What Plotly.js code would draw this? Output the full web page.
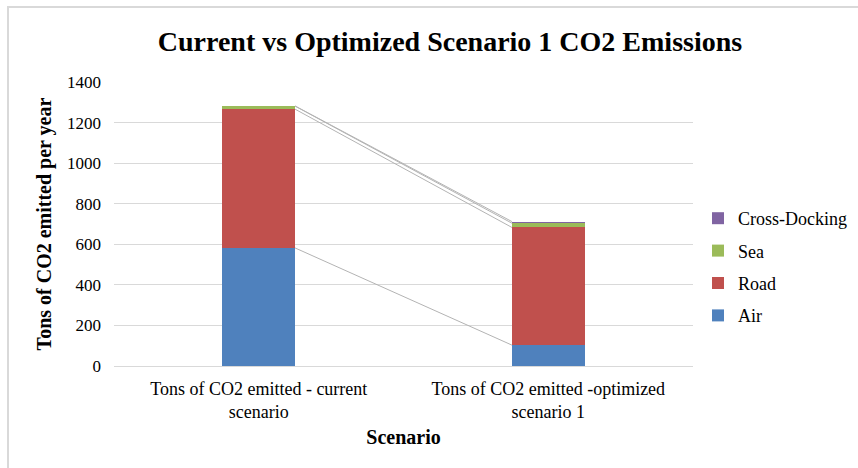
<!DOCTYPE html>
<html>
<head>
<meta charset="utf-8">
<script src="https://cdn.plot.ly/plotly-3.0.1.min.js"></script>
<style>
  html, body { margin: 0; padding: 0; background: #ffffff; }
  #wrap { position: relative; width: 858px; height: 468px; overflow: hidden; }
  #chart { position: absolute; left: 0; top: 0; width: 858px; height: 468px; }
  #frame { position: absolute; left: 7px; top: 6px; width: 860px; height: 470px;
           border-left: 2px solid #d9d9d9; border-top: 2px solid #d9d9d9; pointer-events: none; }
</style>
</head>
<body>
<div id="wrap">
  <div id="chart"></div>
  <div id="frame"></div>
</div>
<script>
// ---- data ----
const categories = [
  "Tons of CO2 emitted - current<br>scenario",
  "Tons of CO2 emitted -optimized<br>scenario 1"
];
const seriesNames = ["Air", "Road", "Sea", "Cross-Docking"];
const air = [582, 103];
const road = [684, 580];
const sea = [15, 21];
const crossDocking = [1, 8];
const yTickVals = [0, 200, 400, 600, 800, 1000, 1200, 1400];

// ---- styles ----
const colors = ["#4f81bd", "#c0504d", "#9bbb59", "#8064a2"];
const BAR_W = 0.251;
const FONT = "Liberation Serif";

const xPos = categories.map((c, i) => i);
const allSeries = [air, road, sea, crossDocking];

const traces = allSeries.map((vals, k) => ({
  type: "bar",
  name: seriesNames[k],
  x: xPos,
  y: vals,
  width: BAR_W,
  marker: { color: colors[k], line: { width: 0 } },
  legendgroup: "g" + k,
  legendrank: 100 - k,
  hoverinfo: "skip"
}));

// series lines connecting cumulative tops between the two bars
const lx = [], ly = [];
const cum = [0, 0];
allSeries.forEach(vals => {
  cum[0] += vals[0];
  cum[1] += vals[1];
  lx.push(xPos[0] + BAR_W / 2, xPos[1] - BAR_W / 2, null);
  ly.push(cum[0], cum[1], null);
});
traces.push({
  type: "scatter",
  mode: "lines",
  x: lx,
  y: ly,
  line: { color: "#b3b3b3", width: 1 },
  showlegend: false,
  hoverinfo: "skip"
});

const layout = {
  width: 858,
  height: 468,
  margin: { l: 114, r: 165, t: 82, b: 102 },
  paper_bgcolor: "#ffffff",
  plot_bgcolor: "#ffffff",
  font: { family: FONT, color: "#000000", size: 18 },
  barmode: "stack",
  title: {
    text: "Current vs Optimized Scenario 1 CO2 Emissions",
    font: { family: FONT, size: 28, weight: "bold", color: "#000000" },
    x: 450 / 858, xanchor: "center", xref: "container",
    y: 1 - 41 / 468, yanchor: "middle", yref: "container"
  },
  xaxis: {
    range: [-0.5, 1.5],
    tickvals: xPos,
    ticktext: categories,
    showgrid: false,
    zeroline: false,
    showline: true,
    linecolor: "#d9d9d9",
    linewidth: 1,
    ticks: "",
    ticklabelstandoff: 6,
    tickfont: { family: FONT, size: 18, color: "#000000" },
    title: {
      text: "Scenario",
      font: { family: FONT, size: 20, weight: "bold", color: "#000000" },
      standoff: 8
    },
    fixedrange: true
  },
  yaxis: {
    range: [0, 1400],
    tickvals: yTickVals,
    showgrid: true,
    gridcolor: "#d9d9d9",
    gridwidth: 1,
    zeroline: false,
    showline: false,
    ticks: "",
    ticklabelstandoff: 12,
    tickfont: { family: FONT, size: 17, color: "#000000" },
    title: {
      text: "Tons of CO2 emitted per year",
      font: { family: FONT, size: 20, weight: "bold", color: "#000000" },
      standoff: 10
    },
    fixedrange: true
  },
  legend: {
    traceorder: "grouped",
    tracegroupgap: 6,
    font: { family: FONT, size: 18, color: "#000000" },
    xref: "container", yref: "container",
    x: 698 / 858, xanchor: "left",
    y: 1 - 200 / 468, yanchor: "top",
    bgcolor: "rgba(0,0,0,0)"
  },
  showlegend: true
};

Plotly.newPlot("chart", traces, layout, { displayModeBar: false, staticPlot: true });
</script>
</body>
</html>
